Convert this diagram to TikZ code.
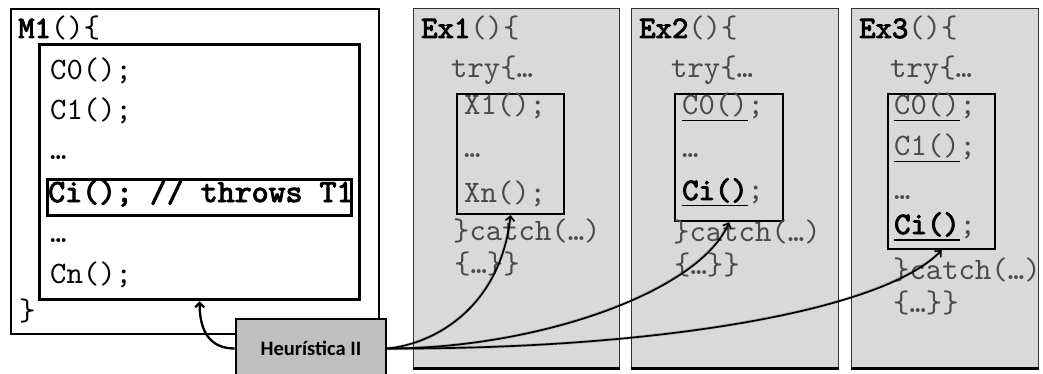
\documentclass[tikz,border=0pt]{standalone}
\usepackage{fontspec}
\setmonofont{lmmono10-regular.otf}[BoldFont=lmmono10-regular.otf, BoldFeatures={FakeBold=3}]
\newfontfamily\calfont{Carlito}
\usetikzlibrary{arrows.meta}
\definecolor{exfill}{HTML}{D9D9D9}
\definecolor{hfill}{HTML}{BFBFBF}
\definecolor{codegray}{HTML}{4A4A4A}
\newcommand\myul[1]{\setbox0\hbox{#1}\rlap{\color{black}\rule[-6.5pt]{\wd0}{1.4pt}}\box0}
\begin{document}
\begin{tikzpicture}[x=1pt,y=-1pt,
  code/.style={anchor=base west, inner sep=0pt, font=\fontsize{31.2}{31.2}\selectfont\ttfamily},
  excode/.style={code, text=codegray},
  exbox/.style={draw=black!80, line width=0.8pt, fill=exfill, anchor=north west, inner sep=0pt},
  frame/.style={draw, anchor=north west, inner sep=0pt},
  hbox/.style={draw, line width=2.6pt, fill=hfill, minimum width=150pt, minimum height=59pt, inner sep=0pt, font=\calfont\bfseries\fontsize{20.5}{20.5}\selectfont},
  arr/.style={line width=1.7pt, -{Straight Barb[length=4.5pt,width=9pt]}},
  shade/.style={line width=3pt, draw=black, opacity=0.18, shift={(1,2.5)}}
]
\clip (0,0) rectangle (1043,374);
% Ex boxes
\node[exbox, minimum width=206pt, minimum height=360pt] (ex1) at (413,8) {};
\node[exbox, minimum width=207pt, minimum height=360pt] (ex2) at (631,8) {};
\node[exbox, minimum width=187pt, minimum height=360pt] (ex3) at (851,8) {};
\draw[line width=3pt] (ex1.south west) -- (ex1.south east);
\draw[line width=3pt] (ex2.south west) -- (ex2.south east);
\draw[line width=3pt] (ex3.south west) -- (ex3.south east);
% M1 boxes
\node[frame, line width=2.4pt, minimum width=368pt, minimum height=325pt] (m1) at (10,8) {};
\node[frame, line width=3.2pt, fill=white, minimum width=320pt, minimum height=255pt] (m1in) at (38,43) {};
\node[frame, line width=2.8pt, minimum width=304pt, minimum height=36pt] (cibox) at (46,178) {};
% M1 text
\node[code] (m1t) at (18,38) {\textbf{M1}()\{};
\node[code] (c0) at (50,80) {C0();};
\node[code] (c1) at (50,120) {C1();};
\node[code] (d1) at (50,160) {…};
\node[code, font=\fontsize{32.3}{32.3}\selectfont\ttfamily\bfseries] (ci) at (48,202) {Ci(); // throws T1};
\node[code] (d2) at (50,242) {…};
\node[code] (cn) at (50,283) {Cn();};
\node[code] (cb) at (19,320) {\}};
% Ex1
\node[frame, line width=2.2pt, minimum width=107pt, minimum height=120pt] (in1) at (456,93) {};
\node[excode] (e1t) at (421,38) {\textcolor{black}{\textbf{Ex1}}()\{};
\node[excode] (e1try) at (451,78) {try\{…};
\node[excode] (e1a) at (464,115) {X1();};
\node[excode] (e1d) at (464,158) {…};
\node[excode] (e1b) at (464,202) {Xn();};
\node[excode] (e1c) at (453,240) {\}catch(…)};
\node[excode] (e1e) at (454,273) {\{…\}\}};
% Ex2
\node[frame, line width=2.2pt, minimum width=108pt, minimum height=127pt] (in2) at (674,93) {};
\node[excode] (e2t) at (639,38) {\textcolor{black}{\textbf{Ex2}}()\{};
\node[excode] (e2try) at (671,78) {try\{…};
\node[excode] (e2a) at (682,115) {\myul{C0()};};
\node[excode] (e2d) at (682,158) {…};
\node[excode] (e2b) at (682,200) {\myul{\textcolor{black}{\textbf{Ci()}}};};
\node[excode] (e2c) at (673,241) {\}catch(…)};
\node[excode] (e2e) at (674,274) {\{…\}\}};
% Ex3
\node[frame, line width=2.2pt, minimum width=107pt, minimum height=155pt] (in3) at (887,93) {};
\node[excode] (e3t) at (859,38) {\textcolor{black}{\textbf{Ex3}}()\{};
\node[excode] (e3try) at (890,78) {try\{…};
\node[excode] (e3a) at (894,115) {\myul{C0()};};
\node[excode] (e3b) at (894,156) {\myul{C1()};};
\node[excode] (e3d) at (894,200) {…};
\node[excode] (e3c) at (894,234) {\myul{\textcolor{black}{\textbf{Ci()}}};};
\node[excode] (e3e) at (893,279) {\}catch(…)};
\node[excode] (e3f) at (893,312) {\{…\}\}};
% Heuristica
\node[hbox] (h) at (311,348.5) {Heurística II};
% shadows
\draw[shade] (h.east) .. controls +(50,-5) and +(-10,90) .. (in1.south);
\draw[shade] (h.east) .. controls +(150,0) and +(-30,70) .. (in2.south);
\draw[shade] (h.east) .. controls +(264,1) and +(-60,62) .. (in3.south);
% arrows
\draw[arr, line width=2.3pt] (h.west) .. controls +(-25,0) and +(0,30) .. (m1in.south);
\draw[arr] (h.east) .. controls +(50,-5) and +(-10,90) .. (in1.south);
\draw[arr] (h.east) .. controls +(150,0) and +(-30,70) .. (in2.south);
\draw[arr] (h.east) .. controls +(264,1) and +(-60,62) .. (in3.south);
\end{tikzpicture}
\end{document}
